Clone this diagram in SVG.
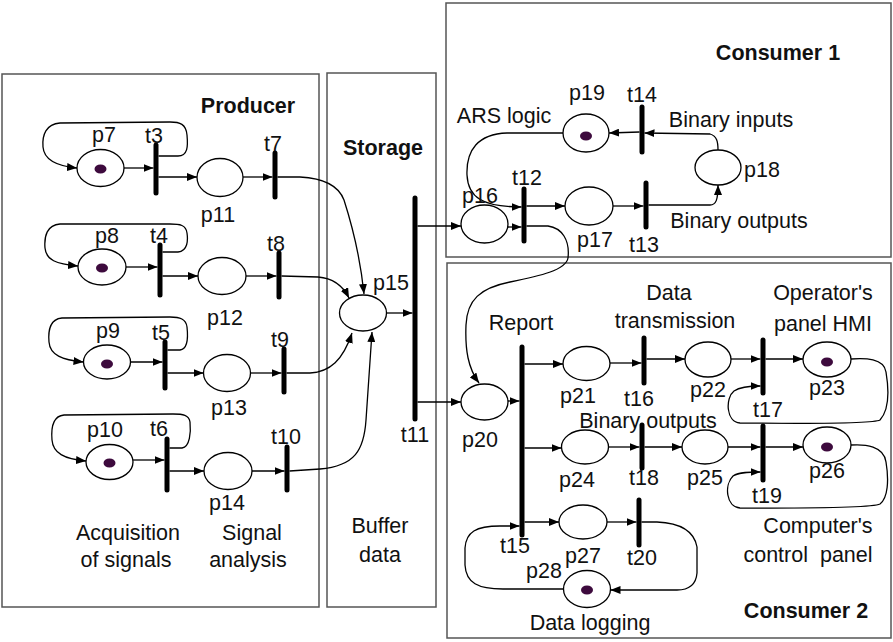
<svg xmlns="http://www.w3.org/2000/svg" width="893" height="642" viewBox="0 0 893 642">
<defs>
<marker id="ah" markerWidth="10" markerHeight="8" refX="10" refY="4" orient="auto" markerUnits="userSpaceOnUse"><path d="M0,0 L10,4 L0,8 z" fill="#000"/></marker>
<style>
.box{fill:#fff;stroke:#555;stroke-width:1.5}
.pl{fill:#fff;stroke:#000;stroke-width:1.3}
.tok{fill:#3d0a3d}
.bar{stroke:#000;stroke-width:5;stroke-linecap:round}
.arc{fill:none;stroke:#000;stroke-width:1.3;marker-end:url(#ah)}
text{font-family:"Liberation Sans",Arial,sans-serif;font-size:21.5px;fill:#111;text-anchor:middle}
.ttl{font-weight:bold}
</style>
</defs>
<rect width="893" height="642" fill="#fff"/>
<g id="regions">
<rect class="box" x="2" y="74" width="317" height="533"/>
<rect class="box" x="327" y="73" width="109" height="534"/>
<rect class="box" x="446" y="3" width="445" height="254"/>
<rect class="box" x="447" y="263" width="444" height="375"/>
<text class="ttl" x="248" y="113">Producer</text>
<text class="ttl" x="383" y="155">Storage</text>
<text class="ttl" x="778" y="60">Consumer 1</text>
<text class="ttl" x="806" y="618">Consumer 2</text>
<text x="128" y="540">Acquisition</text>
<text x="126" y="567">of signals</text>
<text x="252" y="540">Signal</text>
<text x="248" y="567">analysis</text>
<text x="380" y="533">Buffer</text>
<text x="380" y="562">data</text>
<text x="504" y="123">ARS logic</text>
<text x="731" y="127">Binary inputs</text>
<text x="739" y="228">Binary outputs</text>
<text x="521" y="330">Report</text>
<text x="669" y="300">Data</text>
<text x="675" y="328">transmission</text>
<text x="823" y="300">Operator's</text>
<text x="823" y="331">panel HMI</text>
<text x="648" y="428">Binary outputs</text>
<text x="818" y="533">Computer's</text>
<text x="808" y="562" xml:space="preserve">control  panel</text>
<text x="590" y="630">Data logging</text>
</g>
<g id="connectors">
<path class="arc" d="M124,168 L153.5,168"/>
<path class="arc" d="M158.5,177 L197,177"/>
<path class="arc" d="M243,177 L272.5,177"/>
<path class="arc" d="M158.5,156 L178,156 C188,156 188,146 187,135 C186,124 180,122 170,122 L60,123 C46,124 42,135 43,147 C44,160 56,166 77,168"/>
<path class="arc" d="M126,267 L157.5,267"/>
<path class="arc" d="M162.5,276 L198,276"/>
<path class="arc" d="M246,276 L276.5,276"/>
<path class="arc" d="M162.5,252 L178,252 C188,251 188,240 187,233 C186,225 180,224 170,224 L60,224 C47,225 44,236 45,248 C46,260 56,264 78,266"/>
<path class="arc" d="M130.5,362 L162.5,362"/>
<path class="arc" d="M167.5,373 L203.5,373"/>
<path class="arc" d="M250.5,373 L281.5,373"/>
<path class="arc" d="M167.5,350 L180,350 C188,349 188,336 187,327 C186,319 180,317 170,317 L62,318 C50,319 48,330 49,342 C50,355 62,360 83.5,362"/>
<path class="arc" d="M133,460 L164.5,460"/>
<path class="arc" d="M169.5,471 L204,471"/>
<path class="arc" d="M252,471 L284.5,471"/>
<path class="arc" d="M169.5,448 L182,448 C190,447 191,432 190,422 C189,415 183,414 173,414 L64,415 C53,416 51,428 52,440 C53,453 64,459 86,461"/>
<path class="arc" d="M277.5,177 L300,177 C320,178 338,184 344,200 C352,225 360,255 364,294"/>
<path class="arc" d="M281.5,276 L318,277 C332,278 343,286 349,298"/>
<path class="arc" d="M286.5,373 L310,373 C330,372 343,360 352,333"/>
<path class="arc" d="M289.5,471 L320,469 C355,466 364,450 366,420 C368,390 370,360 372,332"/>
<path class="arc" d="M386.5,313 L412.5,313"/>
<path class="arc" d="M417.5,226 L461,226"/>
<path class="arc" d="M417.5,402 L461,402"/>
<path class="arc" d="M639.5,132 L609,133"/>
<path class="arc" d="M718,150 C718,142 717,136 710,134 L644.5,133"/>
<path class="arc" d="M508,227 L521.5,227"/>
<path class="arc" d="M563,133 L507,133 C478,134 466,150 467,175 C468,197 482,207 521.5,207"/>
<path class="arc" d="M526.5,206 L565,206"/>
<path class="arc" d="M613,206 L643.5,206"/>
<path class="arc" d="M648.5,205 L710,205 C716,205 718,200 718,185"/>
<path class="arc" d="M526.5,226 L548,226 C562,228 570,240 568,258 C566,270 540,276 510,282 C480,288 467,300 466,325 C465,350 468,368 479,383"/>
<path class="arc" d="M508,401 L519.5,401"/>
<path class="arc" d="M524.5,364 L563,364"/>
<path class="arc" d="M610,363 L641.5,363"/>
<path class="arc" d="M646.5,359 L685,359"/>
<path class="arc" d="M731,359 L760.5,359"/>
<path class="arc" d="M765.5,359 L803,359"/>
<path class="arc" d="M851,359 C865,358 884,358 886,372 C889,390 889,410 880,420 C870,425 760,423 740,423 C726,422 725,398 734,391 C740,387 750,386 760.5,386"/>
<path class="arc" d="M524.5,448 L561.5,448"/>
<path class="arc" d="M608.5,447 L639.5,447"/>
<path class="arc" d="M644.5,447 L682,447"/>
<path class="arc" d="M728,447 L760.5,447"/>
<path class="arc" d="M765.5,447 L803,447"/>
<path class="arc" d="M851,445 C865,444 884,446 886,462 C889,480 888,498 880,504 C870,509 760,508 740,508 C726,507 724,485 733,476 C739,472 750,472 760.5,472"/>
<path class="arc" d="M524.5,522 L559,522"/>
<path class="arc" d="M607,522 L636.5,522"/>
<path class="arc" d="M641.5,522 L657,522 C680,523 694,530 697,547 L697,573 C696,585 688,590 677,590 L610.5,590"/>
<path class="arc" d="M563.5,589 L503,589 C478,589 466,583 465,565 L465,548 C466,532 476,526 500,526 L519.5,526"/>
</g>
<g id="p7"><ellipse class="pl" cx="100.5" cy="168" rx="23.5" ry="18.5"/><ellipse class="tok" cx="100.5" cy="169" rx="6" ry="4.5"/><text x="104" y="142">p7</text></g>
<g id="t3"><line class="bar" x1="156" y1="145" x2="156" y2="193"/><text x="154" y="143">t3</text></g>
<g id="p11"><ellipse class="pl" cx="220" cy="177.5" rx="23" ry="19"/><text x="218" y="222">p11</text></g>
<g id="t7"><line class="bar" x1="275" y1="153" x2="275" y2="197"/><text x="273" y="151">t7</text></g>
<g id="p8"><ellipse class="pl" cx="102" cy="267" rx="24" ry="18"/><ellipse class="tok" cx="102" cy="268" rx="6" ry="4.5"/><text x="107" y="243">p8</text></g>
<g id="t4"><line class="bar" x1="160" y1="245" x2="160" y2="295"/><text x="159" y="243">t4</text></g>
<g id="p12"><ellipse class="pl" cx="222" cy="276" rx="24" ry="18.5"/><text x="225" y="325">p12</text></g>
<g id="t8"><line class="bar" x1="279" y1="253" x2="279" y2="297"/><text x="276" y="251">t8</text></g>
<g id="p9"><ellipse class="pl" cx="107" cy="362" rx="23.5" ry="17"/><ellipse class="tok" cx="107" cy="364" rx="6" ry="4.5"/><text x="108" y="338">p9</text></g>
<g id="t5"><line class="bar" x1="165" y1="342" x2="165" y2="388"/><text x="161" y="340">t5</text></g>
<g id="p13"><ellipse class="pl" cx="227" cy="373" rx="23.5" ry="18.5"/><text x="229" y="415">p13</text></g>
<g id="t9"><line class="bar" x1="284" y1="349" x2="284" y2="392"/><text x="280" y="347">t9</text></g>
<g id="p10"><ellipse class="pl" cx="109.5" cy="462" rx="23.5" ry="17.5"/><ellipse class="tok" cx="109.5" cy="463" rx="6" ry="4.5"/><text x="105" y="437">p10</text></g>
<g id="t6"><line class="bar" x1="167" y1="439" x2="167" y2="490"/><text x="159" y="436">t6</text></g>
<g id="p14"><ellipse class="pl" cx="228" cy="471" rx="24" ry="18.5"/><text x="227" y="510">p14</text></g>
<g id="t10"><line class="bar" x1="287" y1="447" x2="287" y2="490"/><text x="286" y="444">t10</text></g>
<g id="p15"><ellipse class="pl" cx="363" cy="313" rx="23.5" ry="18"/><text x="391" y="290">p15</text></g>
<g id="t11"><line class="bar" x1="415" y1="198" x2="415" y2="419"/><text x="415" y="442">t11</text></g>
<g id="p19"><ellipse class="pl" cx="586" cy="133" rx="23" ry="19"/><ellipse class="tok" cx="586" cy="136" rx="6" ry="4.5"/><text x="587" y="100">p19</text></g>
<g id="t14"><line class="bar" x1="642" y1="107" x2="642" y2="152"/><text x="642" y="102">t14</text></g>
<g id="p18"><ellipse class="pl" cx="718" cy="167.5" rx="23" ry="17.5"/><text x="762" y="177">p18</text></g>
<g id="p16"><ellipse class="pl" cx="484.5" cy="224" rx="23.5" ry="19"/><text x="480" y="203">p16</text></g>
<g id="t12"><line class="bar" x1="524" y1="189" x2="524" y2="241"/><text x="527" y="185">t12</text></g>
<g id="p17"><ellipse class="pl" cx="589" cy="206" rx="24" ry="19"/><text x="595" y="247">p17</text></g>
<g id="t13"><line class="bar" x1="646" y1="183" x2="646" y2="227"/><text x="644" y="252">t13</text></g>
<g id="p20"><ellipse class="pl" cx="484.5" cy="402" rx="23.5" ry="18"/><text x="480" y="447">p20</text></g>
<g id="t15"><line class="bar" x1="522" y1="347" x2="522" y2="535"/><text x="515" y="553">t15</text></g>
<g id="p21"><ellipse class="pl" cx="586.5" cy="363.5" rx="23.5" ry="17"/><text x="578" y="403">p21</text></g>
<g id="t16"><line class="bar" x1="644" y1="338" x2="644" y2="383"/><text x="639" y="406">t16</text></g>
<g id="p22"><ellipse class="pl" cx="708" cy="359.5" rx="23" ry="17.5"/><text x="708" y="397">p22</text></g>
<g id="t17"><line class="bar" x1="763" y1="340" x2="763" y2="393"/><text x="768" y="417">t17</text></g>
<g id="p23"><ellipse class="pl" cx="827" cy="359.5" rx="24" ry="17.5"/><ellipse class="tok" cx="827" cy="362" rx="6" ry="4.5"/><text x="827" y="395">p23</text></g>
<g id="p24"><ellipse class="pl" cx="585" cy="447" rx="23.5" ry="17"/><text x="577" y="487">p24</text></g>
<g id="t18"><line class="bar" x1="642" y1="425" x2="642" y2="468"/><text x="644" y="485">t18</text></g>
<g id="p25"><ellipse class="pl" cx="705" cy="447" rx="23" ry="17"/><text x="705" y="485">p25</text></g>
<g id="t19"><line class="bar" x1="763" y1="426" x2="763" y2="480"/><text x="767" y="503">t19</text></g>
<g id="p26"><ellipse class="pl" cx="827" cy="445" rx="24" ry="18"/><ellipse class="tok" cx="827" cy="447" rx="6" ry="4.5"/><text x="827" y="478">p26</text></g>
<g id="p27"><ellipse class="pl" cx="583" cy="522" rx="24" ry="17"/><text x="583" y="563">p27</text></g>
<g id="t20"><line class="bar" x1="639" y1="500" x2="639" y2="545"/><text x="642" y="565">t20</text></g>
<g id="p28"><ellipse class="pl" cx="587" cy="589" rx="23.5" ry="18.5"/><ellipse class="tok" cx="587" cy="590" rx="6" ry="4.5"/><text x="544" y="578">p28</text></g>
</svg>
